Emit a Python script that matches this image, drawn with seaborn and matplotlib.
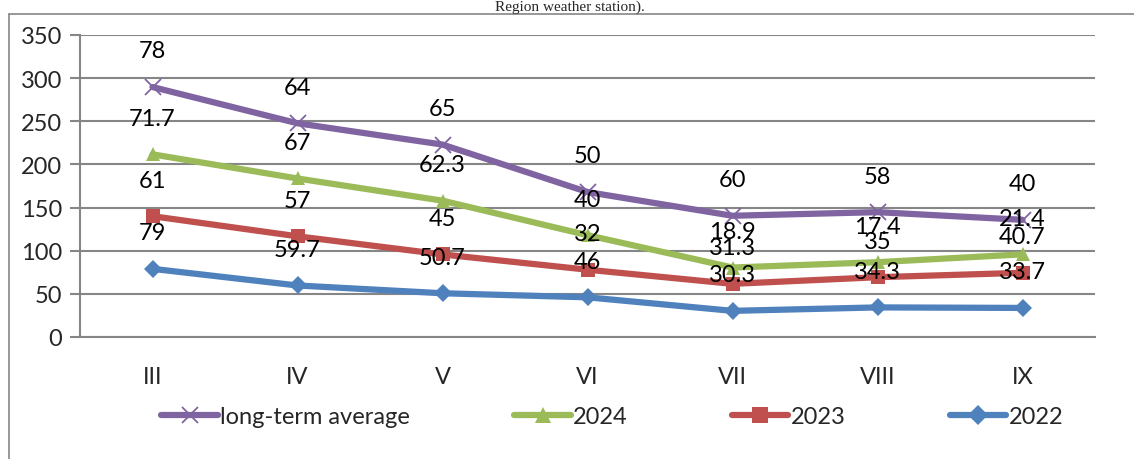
import numpy as np
import pandas as pd
import matplotlib
matplotlib.use('Agg')
import matplotlib.pyplot as plt
from matplotlib.lines import Line2D
import seaborn as sns

months = ['III', 'IV', 'V', 'VI', 'VII', 'VIII', 'IX']
# monthly values (shown as data labels); the chart stacks them
v2022 = [79, 59.7, 50.7, 46, 30.3, 34.3, 33.7]
v2023 = [61, 57, 45, 32, 31.3, 35, 40.7]
v2024 = [71.7, 67, 62.3, 40, 18.9, 17.4, 21.4]
v_avg = [78, 64, 65, 50, 60, 58, 40]

series = ['2022', '2023', '2024', 'long-term average']
COLORS = {
    '2022': '#4F81BD',
    '2023': '#C0504D',
    '2024': '#9BBB59',
    'long-term average': '#8064A2',
}
MARKERS = {'2022': 'D', '2023': 's', '2024': '^', 'long-term average': 'x'}
MSIZE = {'2022': 9, '2023': 10, '2024': 10, 'long-term average': 11}
FS = 17

sns.set_style('white')
plt.rcParams['font.family'] = ['Lato', 'DejaVu Sans']

rows = []
stack = np.zeros(len(months))
for name, vals in zip(series, [v2022, v2023, v2024, v_avg]):
    stack = stack + np.array(vals)
    for i, (m, v, s) in enumerate(zip(months, vals, stack)):
        rows.append({'series': name, 'pos': i, 'month': m, 'value': v, 'stacked': s})
df = pd.DataFrame(rows)

fig = plt.figure(figsize=(11.34, 4.6), dpi=100)
ax = fig.add_axes([80 / 1134, 1 - 338 / 460, 1015 / 1134, 302 / 460])

for name in series:
    d = df[df['series'] == name]
    sns.lineplot(data=d, x='pos', y='stacked', ax=ax, color=COLORS[name],
                 linewidth=4.5, marker=MARKERS[name], markersize=MSIZE[name],
                 markeredgewidth=1.3 if name == 'long-term average' else 0,
                 markeredgecolor=COLORS[name], label=name, legend=False,
                 zorder=3)

for _, r in df.iterrows():
    ax.annotate(f"{r['value']:g}", (r['pos'], r['stacked']),
                xytext=(0, 26), textcoords='offset points',
                ha='center', va='center', fontsize=FS, color='black', zorder=5)

ax.set_xlim(-0.5, 6.5)
ax.set_ylim(0, 350)
ax.set_yticks(np.arange(0, 351, 50))
ax.set_xticks(range(len(months)))
ax.set_xticklabels(months)
ax.set_xticks(np.arange(-0.5, 7, 1), minor=True)
ax.tick_params(axis='x', which='major', length=0, pad=21, labelsize=FS)
ax.tick_params(axis='x', which='minor', length=7, width=1.5, color='#868686',
               direction='out')
ax.tick_params(axis='y', length=7, width=1.5, color='#868686', direction='out',
               pad=6, labelsize=FS, left=True)
ax.set_xlabel('')
ax.set_ylabel('')
ax.grid(axis='y', color='#868686', linewidth=1.5, zorder=0)
ax.set_axisbelow(True)
for side in ['top', 'right']:
    ax.spines[side].set_visible(False)
for side in ['left', 'bottom']:
    ax.spines[side].set_color('#868686')
    ax.spines[side].set_linewidth(1.5)

handles = [Line2D([], [], color=COLORS[n], linewidth=4.5, marker=MARKERS[n],
                  markersize=MSIZE[n] + 1, markeredgecolor=COLORS[n],
                  markeredgewidth=1.3 if n == 'long-term average' else 0)
           for n in series[::-1]]
fig.legend(handles, series[::-1], loc='center', bbox_to_anchor=(0.54, 42 / 460),
           ncol=4, frameon=False, fontsize=FS, handlelength=2.4,
           columnspacing=4.4, handletextpad=0.1)

# outer chart frame and the caption above it
fig.add_artist(Line2D([9 / 1134, 9 / 1134], [0, 1 - 15 / 460], color='#868686', linewidth=1.2))
fig.add_artist(Line2D([9 / 1134, 1], [1 - 15 / 460, 1 - 15 / 460], color='#868686', linewidth=1.2))
fig.text(570 / 1134, 1 - 0.5 / 460, 'Region weather station).', ha='center', va='top',
         fontsize=11, family=['Liberation Serif'])

fig.savefig('out.png', dpi=100, facecolor='white')
